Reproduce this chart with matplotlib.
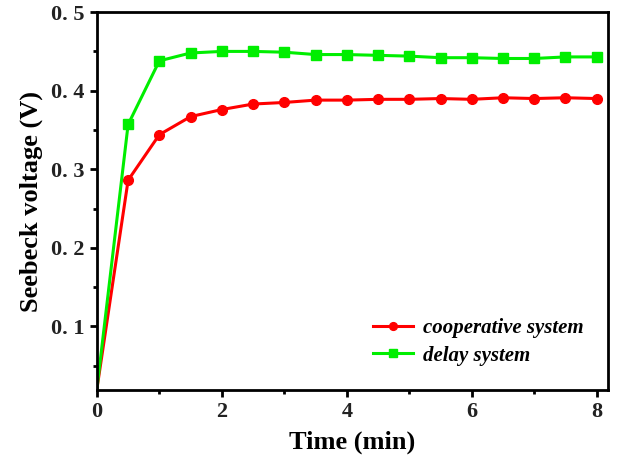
import matplotlib
matplotlib.use("Agg")
import matplotlib.pyplot as plt
from matplotlib.ticker import FixedLocator

time_min = [0, 0.5, 1, 1.5, 2, 2.5, 3, 3.5, 4, 4.5, 5, 5.5, 6, 6.5, 7, 7.5, 8]
cooperative = [0.02, 0.286, 0.344, 0.367, 0.376, 0.383, 0.385, 0.388, 0.388, 0.389, 0.389,
               0.390, 0.389, 0.391, 0.390, 0.391, 0.390]
delay = [0.02, 0.357, 0.438, 0.448, 0.450, 0.450, 0.449, 0.446, 0.446, 0.445, 0.444,
         0.442, 0.442, 0.441, 0.441, 0.443, 0.443]
y_ticks = [0.1, 0.2, 0.3, 0.4, 0.5]
y_tick_labels = ["0. 1", "0. 2", "0. 3", "0. 4", "0. 5"]
x_ticks = [0, 2, 4, 6, 8]

plt.rcParams['font.family'] = ['Liberation Serif', 'DejaVu Serif']

fig = plt.figure(figsize=(6.21, 4.67), dpi=100)
ax = fig.add_axes([0.156, 0.165, 0.823, 0.809])

ax.plot(time_min, cooperative, color='#ff0000', lw=2.2, marker='o', ms=7,
        markevery=slice(1, None), label='cooperative system')
ax.plot(time_min, delay, color='#00ee00', lw=2.2, marker='s', ms=6.5,
        markevery=slice(1, None), label='delay system')

ax.set_xlim(0, 8.18)
ax.set_ylim(0.019, 0.5)
ax.set_xticks(x_ticks)
ax.set_xticklabels([str(t) for t in x_ticks])
ax.xaxis.set_minor_locator(FixedLocator([1, 3, 5, 7]))
ax.set_yticks(y_ticks)
ax.set_yticklabels(y_tick_labels)
ax.yaxis.set_minor_locator(FixedLocator([0.05, 0.15, 0.25, 0.35, 0.45]))

for s in ax.spines.values():
    s.set_linewidth(2)
ax.tick_params(which='both', direction='out', width=2, top=False, right=False)
ax.tick_params(which='major', length=5, labelsize=16, pad=4)
ax.tick_params(which='minor', length=3)
for lab in ax.get_xticklabels() + ax.get_yticklabels():
    lab.set_fontweight('bold')
    lab.set_color('#222222')

ax.set_xlabel('Time (min)', fontsize=19, fontweight='bold', labelpad=6)
ax.set_ylabel('Seebeck voltage (V)', fontsize=19, fontweight='bold', labelpad=6)

leg = ax.legend(loc='lower right', bbox_to_anchor=(0.99, 0.015), frameon=False,
                prop={'style': 'italic', 'weight': 'bold', 'size': 15},
                handlelength=1.9, handletextpad=0.5, labelspacing=0.35,
                markerscale=0.8)

fig.savefig('out.png', dpi=100)
